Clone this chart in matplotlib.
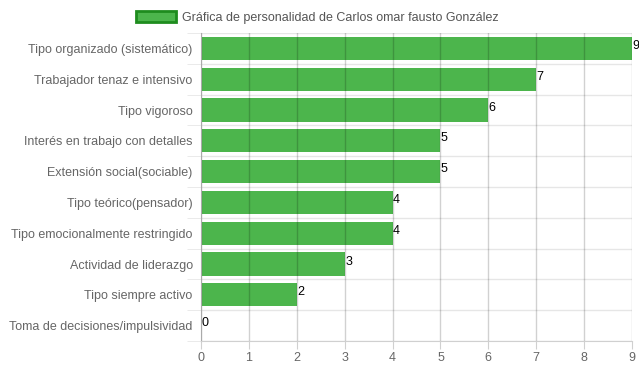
"""
Horizontal bar chart: personality profile of Carlos omar fausto González.
Saves out.png (639x372).
"""

import matplotlib.pyplot as plt
from matplotlib.patches import Patch

# ── Data ──────────────────────────────────────────────────────────────────────
categories = [
    "Tipo organizado (sistemático)",
    "Trabajador tenaz e intensivo",
    "Tipo vigoroso",
    "Interés en trabajo con detalles",
    "Extensión social(sociable)",
    "Tipo teórico(pensador)",
    "Tipo emocionalmente restringido",
    "Actividad de liderazgo",
    "Tipo siempre activo",
    "Toma de decisiones/impulsividad",
]
values = [9, 7, 6, 5, 5, 4, 4, 3, 2, 0]
x_ticks = list(range(0, 10))
legend_label = "Gráfica de personalidad de Carlos omar fausto González"

# ── Style ─────────────────────────────────────────────────────────────────────
BAR_COLOR = "#4cb54c"
EDGE_COLOR = "#1e8c1e"
TEXT_COLOR = "#666666"
plt.rcParams["font.family"] = ["Liberation Sans", "DejaVu Sans"]

fig = plt.figure(figsize=(6.39, 3.72), dpi=100)
ax = fig.add_axes([0.3146, 0.0833, 0.6745, 0.828])

n = len(categories)
ypos = list(range(n))
ax.barh(ypos, values, height=0.75, color=BAR_COLOR, zorder=1)

ax.set_xlim(0, 9)
ax.set_ylim(n - 0.5, -0.5)

# vertical grid over bars (semi transparent look)
for t in x_ticks:
    ax.axvline(t, color="#000000", alpha=0.18, lw=1, zorder=2)
# horizontal category separators
for b in range(n + 1):
    ax.axhline(b - 0.5, color="#e6e6e6", lw=1, zorder=0.5)

ax.set_xticks(x_ticks)
ax.set_yticks(ypos)
ax.set_yticklabels(categories)
ax.set_yticks([b - 0.5 for b in range(n + 1)], minor=True)
ax.tick_params(axis="both", colors=TEXT_COLOR, labelsize=9, length=0, pad=4)
ax.tick_params(axis="y", pad=6)
ax.tick_params(axis="y", which="minor", length=10, color="#e6e6e6")
ax.tick_params(axis="x", length=6, color="#d0d0d0", pad=2)
for s in ax.spines.values():
    s.set_visible(False)
ax.spines["bottom"].set_visible(True)
ax.spines["bottom"].set_color("#d0d0d0")
ax.spines["left"].set_visible(True)
ax.spines["left"].set_color("#aaaaaa")

for y, v in zip(ypos, values):
    ax.text(v + 0.01, y - 0.08, str(v), fontsize=9, color="black",
            ha="left", va="center", zorder=3, clip_on=False)

handle = Patch(facecolor=BAR_COLOR, edgecolor=EDGE_COLOR, linewidth=2)
fig.legend([handle], [legend_label], loc="upper center",
           bbox_to_anchor=(0.497, 1.0), frameon=False, fontsize=9,
           labelcolor="#555555", handlelength=3.2, handleheight=1.0,
           handletextpad=0.5)

fig.savefig("out.png", dpi=100)
